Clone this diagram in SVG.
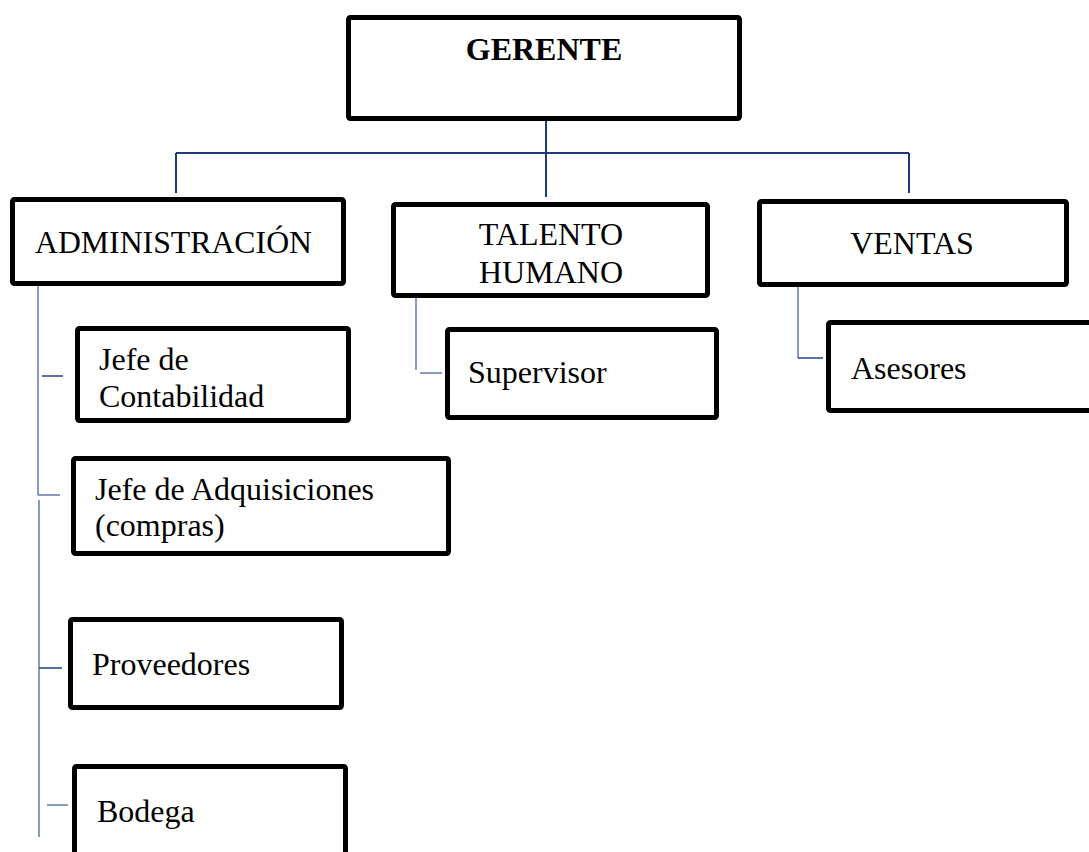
<svg xmlns="http://www.w3.org/2000/svg" width="1089" height="852" viewBox="0 0 1089 852">
  <style>
    .box { fill: #ffffff; stroke: #000000; stroke-width: 5; }
    .lbl { font-family: "Liberation Serif", "Times New Roman", serif; font-size: 32px; fill: #000000; }
    .bold { font-weight: bold; }
    .trunk { stroke: #1f3a78; stroke-width: 2; fill: none; }
    .branch { stroke: #5670a8; stroke-width: 1.4; fill: none; }
    .stub { stroke: #2f4d8e; stroke-width: 1.6; fill: none; }
  </style>
  <rect width="1089" height="852" fill="#ffffff"/>

  <!-- connectors -->
  <g id="connectors">
    <line class="trunk" x1="546" y1="121" x2="546" y2="197"/>
    <line class="trunk" x1="176" y1="153" x2="909" y2="153"/>
    <line class="trunk" x1="176" y1="153" x2="176" y2="193"/>
    <line class="trunk" x1="909" y1="153" x2="909" y2="193"/>

    <line class="branch" x1="38" y1="286" x2="38" y2="495"/>
    <line class="branch" x1="39" y1="500" x2="39" y2="837"/>
    <line class="stub" x1="42" y1="376" x2="63" y2="376"/>
    <line class="branch" x1="38" y1="495" x2="60" y2="495"/>
    <line class="stub" x1="39" y1="668" x2="62" y2="668"/>
    <line class="branch" x1="47" y1="805" x2="68" y2="805"/>

    <line class="branch" x1="416" y1="298" x2="416" y2="370"/>
    <line class="branch" x1="420" y1="373" x2="442" y2="373"/>

    <line class="branch" x1="798" y1="287" x2="798" y2="358"/>
    <line class="stub" x1="798" y1="358" x2="823" y2="358"/>
  </g>

  <g id="gerente">
    <rect class="box" x="348.5" y="17.5" width="391" height="101" rx="2"/>
    <text class="lbl bold" x="544" y="60" text-anchor="middle">GERENTE</text>
  </g>

  <g id="administracion">
    <rect class="box" x="12.5" y="199.5" width="331" height="84" rx="2"/>
    <text class="lbl" x="35" y="253" textLength="277" lengthAdjust="spacingAndGlyphs">ADMINISTRACIÓN</text>
  </g>

  <g id="talento-humano">
    <rect class="box" x="393.5" y="204.5" width="314" height="91" rx="2"/>
    <text class="lbl" x="551" y="245" text-anchor="middle">TALENTO</text>
    <text class="lbl" x="551" y="283" text-anchor="middle">HUMANO</text>
  </g>

  <g id="ventas">
    <rect class="box" x="759.5" y="201.5" width="307" height="83" rx="2"/>
    <text class="lbl" x="912" y="254" text-anchor="middle">VENTAS</text>
  </g>

  <g id="jefe-contabilidad">
    <rect class="box" x="77.5" y="328.5" width="271" height="92" rx="2"/>
    <text class="lbl" x="99" y="370">Jefe de</text>
    <text class="lbl" x="99" y="407">Contabilidad</text>
  </g>

  <g id="supervisor">
    <rect class="box" x="447.5" y="329.5" width="269" height="88" rx="2"/>
    <text class="lbl" x="468" y="383">Supervisor</text>
  </g>

  <g id="asesores">
    <rect class="box" x="828.5" y="322.5" width="275" height="88" rx="2"/>
    <text class="lbl" x="851" y="379">Asesores</text>
  </g>

  <g id="jefe-adquisiciones">
    <rect class="box" x="73.5" y="458.5" width="375" height="95" rx="2"/>
    <text class="lbl" x="95" y="500">Jefe de Adquisiciones</text>
    <text class="lbl" x="95" y="536">(compras)</text>
  </g>

  <g id="proveedores">
    <rect class="box" x="70.5" y="619.5" width="271" height="88" rx="2"/>
    <text class="lbl" x="92" y="675">Proveedores</text>
  </g>

  <g id="bodega">
    <rect class="box" x="74.5" y="766.5" width="271" height="100" rx="2"/>
    <text class="lbl" x="97" y="822">Bodega</text>
  </g>
</svg>
